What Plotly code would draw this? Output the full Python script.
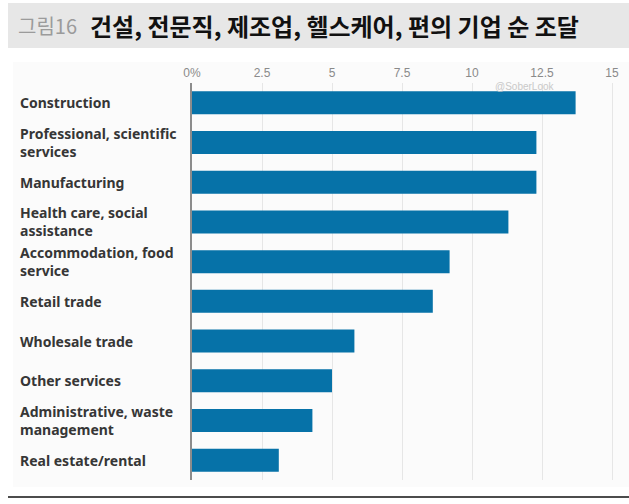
import plotly.graph_objects as go

# Net borrowing by industry (%), top to bottom
categories = [
    "Construction",
    "Professional, scientific<br>services",
    "Manufacturing",
    "Health care, social<br>assistance",
    "Accommodation, food<br>service",
    "Retail trade",
    "Wholesale trade",
    "Other services",
    "Administrative, waste<br>management",
    "Real estate/rental",
]
values = [13.7, 12.3, 12.3, 11.3, 9.2, 8.6, 5.8, 5.0, 4.3, 3.1]

tick_vals = [0, 2.5, 5, 7.5, 10, 12.5, 15]
tick_text = ["0%", "2.5", "5", "7.5", "10", "12.5", "15"]

W, H = 629, 504
ML, MR, MT, MB = 192, 3, 83, 24
PW = W - ML - MR
PH = H - MT - MB


def px(xp):
    return (xp - ML) / PW


def py(yp):
    return (H - MB - yp) / PH


BAR = "#0672a8"
LABEL_FONT = "Noto Sans, Liberation Sans, Arial, sans-serif"
NARROW_FONT = "Liberation Sans Narrow, Liberation Sans, Arial, sans-serif"
KR_FONT = "Noto Sans CJK KR, Noto Sans, sans-serif"

fig = go.Figure(
    go.Bar(
        x=values,
        y=categories,
        orientation="h",
        width=0.58,
        marker=dict(color=BAR, line=dict(width=0)),
        hoverinfo="skip",
    )
)

shapes = [
    # chart panel
    dict(type="rect", xref="paper", yref="paper",
         x0=px(13), x1=px(629), y0=py(487), y1=py(62),
         fillcolor="#fbfbfb", line=dict(width=0), layer="below"),
    # title band
    dict(type="rect", xref="paper", yref="paper",
         x0=px(8), x1=px(629), y0=py(48), y1=py(3),
         fillcolor="#e7e7e7", line=dict(width=0), layer="below"),
    # bottom rule
    dict(type="line", xref="paper", yref="paper",
         x0=px(8), x1=px(629), y0=py(497), y1=py(497),
         line=dict(color="#111111", width=1.5)),
]

annotations = [
    dict(text="그림16", xref="paper", yref="paper", x=px(16), y=py(25),
         xanchor="left", yanchor="middle", showarrow=False,
         font=dict(family=KR_FONT, size=20, color="#9b9b9b")),
    dict(text="<b>건설, 전문직, 제조업, 헬스케어, 편의 기업 순 조달</b>",
         xref="paper", yref="paper", x=px(88), y=py(25),
         xanchor="left", yanchor="middle", showarrow=False,
         font=dict(family=KR_FONT, size=24, color="#111111")),
    dict(text="@SoberLook", xref="x", yref="paper", x=11.9, y=py(86),
         xanchor="center", yanchor="middle", showarrow=False,
         font=dict(family=NARROW_FONT, size=10, color="#c9c9c9")),
]

for cat in categories:
    annotations.append(
        dict(text=f"<b>{cat}</b>", xref="paper", yref="y", x=px(18), y=cat,
             xanchor="left", yanchor="middle", align="left", showarrow=False,
             font=dict(family=LABEL_FONT, size=14, color="#363636"))
    )

fig.update_layout(
    width=W, height=H,
    margin=dict(l=ML, r=MR, t=MT, b=MB),
    paper_bgcolor="#ffffff",
    plot_bgcolor="rgba(0,0,0,0)",
    showlegend=False,
    bargap=0.42,
    shapes=shapes,
    annotations=annotations,
    xaxis=dict(
        range=[0, PW / 28.0],
        side="top",
        tickvals=tick_vals,
        ticktext=tick_text,
        tickfont=dict(family=NARROW_FONT, size=12, color="#8a8a8a"),
        ticklabelstandoff=3,
        showgrid=True, gridcolor="#e6e6e6", gridwidth=1,
        zeroline=False, showline=False, ticks="",
        fixedrange=True,
    ),
    yaxis=dict(
        categoryorder="array", categoryarray=categories,
        autorange="reversed",
        showticklabels=False, showgrid=False, zeroline=False,
        showline=True, linecolor="#8c8c8c", linewidth=2,
        ticks="", fixedrange=True,
    ),
)

fig.write_html("out.html")
